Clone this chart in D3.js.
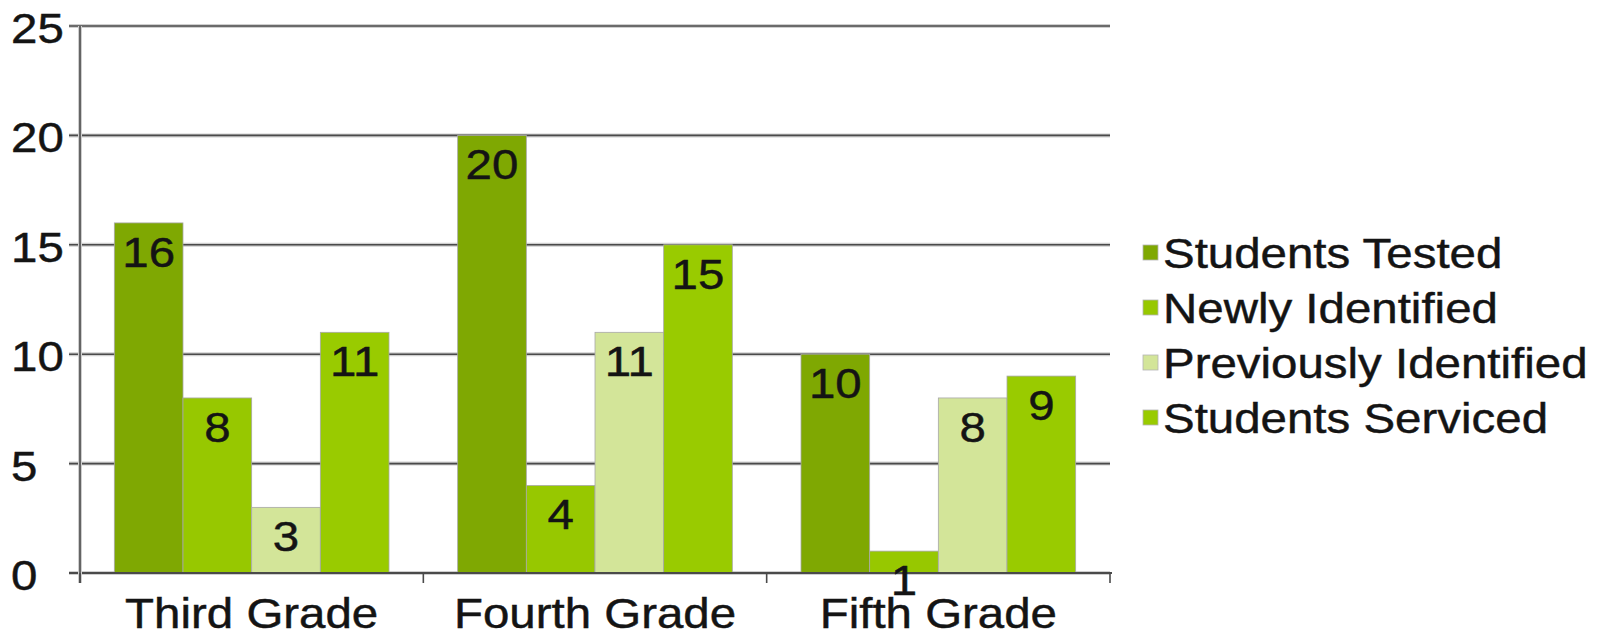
<!DOCTYPE html>
<html>
<head>
<meta charset="utf-8">
<script src="https://cdn.jsdelivr.net/npm/d3@7"></script>
<style>
  html, body { margin: 0; padding: 0; background: #ffffff; }
  svg { display: block; }
  text { font-family: "Liberation Sans", Arial, sans-serif; fill: #141414; stroke: #141414; stroke-width: 0.45px; }
</style>
</head>
<body>
<svg id="chart" width="1605" height="635"></svg>
<script>
// ---- data ----
const categories = ["Third Grade", "Fourth Grade", "Fifth Grade"];
const seriesNames = ["Students Tested", "Newly Identified", "Previously Identified", "Students Serviced"];
const studentsTested = [16, 20, 10];
const newlyIdentified = [8, 4, 1];
const previouslyIdentified = [3, 11, 8];
const studentsServiced = [11, 15, 9];
const yTicks = [0, 5, 10, 15, 20, 25];
const seriesColors = ["#7fa802", "#97c800", "#d3e599", "#99cb00"];

const seriesValues = [studentsTested, newlyIdentified, previouslyIdentified, studentsServiced];

// ---- layout ----
const svg = d3.select("#chart");
const plot = { left: 80, right: 1110, top: 26, bottom: 573 };
const fontSize = 42;
const sx = 1.13; // horizontal stretch of text in the reference

const x0 = d3.scaleBand()
  .domain(categories)
  .range([plot.left, plot.right])
  .paddingInner(0.2)
  .paddingOuter(0.1);

const x1 = d3.scaleBand()
  .domain(seriesNames)
  .range([0, x0.bandwidth()])
  .padding(0);

const y = d3.scaleLinear()
  .domain([0, 25])
  .range([plot.bottom, plot.top]);

function stretchedText(sel, x, yPos, str, anchor) {
  sel.append("text")
    .attr("transform", `translate(${x},${yPos}) scale(${sx},1)`)
    .attr("text-anchor", anchor)
    .style("font-size", fontSize + "px")
    .text(str);
}

// ---- gridlines ----
const grid = svg.append("g");
yTicks.forEach(t => {
  grid.append("line")
    .attr("x1", plot.left - 11).attr("x2", plot.right)
    .attr("y1", y(t)).attr("y2", y(t))
    .attr("stroke", "#cfcfcf").attr("stroke-width", 4);
  grid.append("line")
    .attr("x1", plot.left - 11).attr("x2", plot.right)
    .attr("y1", y(t)).attr("y2", y(t))
    .attr("stroke", "#4a4a4a").attr("stroke-width", 1.6);
});

// ---- bars ----
const barsG = svg.append("g");
categories.forEach((cat, ci) => {
  seriesNames.forEach((s, si) => {
    const v = seriesValues[si][ci];
    barsG.append("rect")
      .attr("x", x0(cat) + x1(s))
      .attr("y", y(v))
      .attr("width", x1.bandwidth())
      .attr("height", y(0) - y(v))
      .attr("fill", seriesColors[si])
      .attr("stroke", "#a8a8a8")
      .attr("stroke-width", 0.8);
  });
});

// redraw baseline over bars
svg.append("line")
  .attr("x1", plot.left - 11).attr("x2", plot.right + 2)
  .attr("y1", y(0)).attr("y2", y(0))
  .attr("stroke", "#4a4a4a").attr("stroke-width", 1.8);

// ---- y axis line and tick labels ----
svg.append("line")
  .attr("x1", plot.left).attr("x2", plot.left)
  .attr("y1", plot.top).attr("y2", y(0) + 10)
  .attr("stroke", "#cfcfcf").attr("stroke-width", 4);
svg.append("line")
  .attr("x1", plot.left).attr("x2", plot.left)
  .attr("y1", plot.top).attr("y2", y(0) + 10)
  .attr("stroke", "#4a4a4a").attr("stroke-width", 1.6);

const yLab = svg.append("g");
yTicks.forEach(t => {
  stretchedText(yLab, 11, y(t) + 17, String(t), "start");
});

// ---- x axis category ticks ----
const xt = svg.append("g");
const boundaries = [plot.left].concat(categories.map(c => x0(c) + x0.bandwidth() + x0.step() * x0.paddingInner() / 2));
boundaries[boundaries.length - 1] = plot.right;
boundaries.forEach(b => {
  xt.append("line")
    .attr("x1", b).attr("x2", b)
    .attr("y1", y(0)).attr("y2", y(0) + 10)
    .attr("stroke", "#4a4a4a").attr("stroke-width", 1.6);
});
categories.forEach(c => {
  stretchedText(xt, x0(c) + x0.bandwidth() / 2, 628, c, "middle");
});

// ---- value labels ----
const lab = svg.append("g");
categories.forEach((cat, ci) => {
  seriesNames.forEach((s, si) => {
    const v = seriesValues[si][ci];
    stretchedText(lab, x0(cat) + x1(s) + x1.bandwidth() / 2, y(v) + 44, String(v), "middle");
  });
});

// ---- legend ----
const leg = svg.append("g");
seriesNames.forEach((s, i) => {
  const base = 268 + i * 55;
  leg.append("rect")
    .attr("x", 1143).attr("y", base - 23)
    .attr("width", 15).attr("height", 15)
    .attr("fill", seriesColors[i])
    .attr("stroke", "#b5b5b5").attr("stroke-width", 0.8);
  stretchedText(leg, 1163, base, s, "start");
});
</script>
</body>
</html>
